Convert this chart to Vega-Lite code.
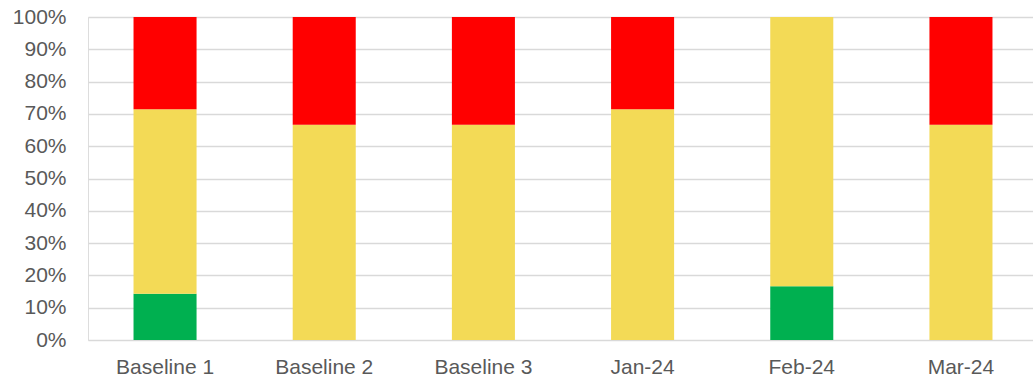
{
  "$schema": "https://vega.github.io/schema/vega-lite/v6.json",
  "autosize": {"type": "none"},
  "padding": {"left": 88, "top": 17, "right": 0, "bottom": 41},
  "width": 950,
  "height": 323,
  "background": "white",
  "data": {
    "values": [
      {"period": "Baseline 1", "status": "Green", "rank": 1, "count": 1},
      {"period": "Baseline 1", "status": "Yellow", "rank": 2, "count": 4},
      {"period": "Baseline 1", "status": "Red", "rank": 3, "count": 2},
      {"period": "Baseline 2", "status": "Green", "rank": 1, "count": 0},
      {"period": "Baseline 2", "status": "Yellow", "rank": 2, "count": 2},
      {"period": "Baseline 2", "status": "Red", "rank": 3, "count": 1},
      {"period": "Baseline 3", "status": "Green", "rank": 1, "count": 0},
      {"period": "Baseline 3", "status": "Yellow", "rank": 2, "count": 2},
      {"period": "Baseline 3", "status": "Red", "rank": 3, "count": 1},
      {"period": "Jan-24", "status": "Green", "rank": 1, "count": 0},
      {"period": "Jan-24", "status": "Yellow", "rank": 2, "count": 5},
      {"period": "Jan-24", "status": "Red", "rank": 3, "count": 2},
      {"period": "Feb-24", "status": "Green", "rank": 1, "count": 1},
      {"period": "Feb-24", "status": "Yellow", "rank": 2, "count": 5},
      {"period": "Feb-24", "status": "Red", "rank": 3, "count": 0},
      {"period": "Mar-24", "status": "Green", "rank": 1, "count": 0},
      {"period": "Mar-24", "status": "Yellow", "rank": 2, "count": 2},
      {"period": "Mar-24", "status": "Red", "rank": 3, "count": 1}
    ]
  },
  "mark": {"type": "bar"},
  "encoding": {
    "x": {
      "field": "period",
      "type": "nominal",
      "sort": null,
      "scale": {"paddingInner": 0.604, "paddingOuter": 0.286},
      "axis": {
        "title": null,
        "labelAngle": 0,
        "labelFont": "Liberation Sans",
        "labelFontSize": 21,
        "labelColor": "#595959",
        "labelPadding": 16,
        "ticks": false,
        "domain": false,
        "grid": false
      }
    },
    "y": {
      "field": "count",
      "type": "quantitative",
      "stack": "normalize",
      "scale": {"domain": [0, 1], "nice": false},
      "axis": {
        "title": null,
        "format": ".0%",
        "values": [0, 0.1, 0.2, 0.3, 0.4, 0.5, 0.6, 0.7, 0.8, 0.9, 1],
        "labelFont": "Liberation Sans",
        "labelFontSize": 21,
        "labelColor": "#595959",
        "labelPadding": 22,
        "ticks": false,
        "domain": false,
        "grid": true,
        "gridColor": "#d9d9d9",
        "gridWidth": 1.3
      }
    },
    "color": {
      "field": "status",
      "type": "nominal",
      "scale": {
        "domain": ["Green", "Yellow", "Red"],
        "range": ["#00b050", "#f3da56", "#ff0000"]
      },
      "legend": null
    },
    "order": {"field": "rank", "type": "quantitative"}
  }
}
